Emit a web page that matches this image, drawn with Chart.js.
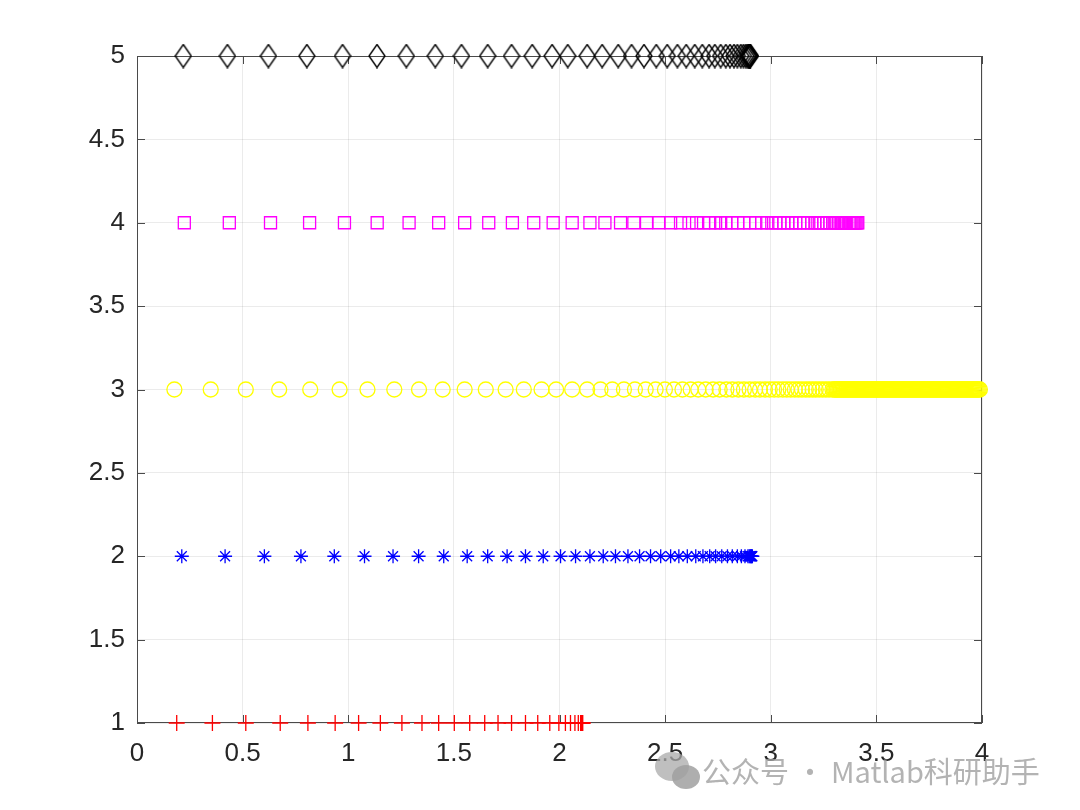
<!DOCTYPE html>
<html>
<head>
<meta charset="utf-8">
<script src="https://cdn.jsdelivr.net/npm/chart.js@4.4.0/dist/chart.umd.min.js"></script>
<style>
    html, body { margin: 0; padding: 0; background: #fff; }
    #wrap { position: relative; width: 1080px; height: 810px; }
    #mark { position: absolute; left: 702px; top: 749px; font-family: "Noto Sans CJK SC", "Noto Sans", sans-serif;
            font-size: 29px; color: rgba(160,160,160,0.8); white-space: nowrap; }
    .bub { position: absolute; border-radius: 50%; }
</style>
</head>
<body>
<div id="wrap">
    <canvas id="scatterChart"></canvas>
    <div class="bub" style="left:655px;top:752px;width:34px;height:29px;background:rgba(170,170,170,0.75)"></div>
    <div class="bub" style="left:672px;top:765px;width:28px;height:24px;background:rgba(160,160,160,0.85)"></div>
    <div id="mark">公众号 · Matlab科研助手</div>
</div>
<script>
// Axis ticks
const xTicks = [0, 0.5, 1, 1.5, 2, 2.5, 3, 3.5, 4];
const yTicks = [1, 1.5, 2, 2.5, 3, 3.5, 4, 4.5, 5];

// Series values (x positions), one row per series
const redX = [0.188, 0.357, 0.515, 0.678, 0.809, 0.938, 1.049, 1.152, 1.254, 1.349, 1.428, 1.502, 1.575,
    1.646, 1.709, 1.773, 1.839, 1.897, 1.954, 1.997, 2.028, 2.052, 2.073, 2.089, 2.100, 2.104, 2.106, 2.108, 2.110];
const blueX = [0.212, 0.417, 0.603, 0.776, 0.934, 1.077, 1.212, 1.333, 1.452, 1.563, 1.660, 1.752, 1.839,
    1.923, 2.005, 2.076, 2.144, 2.207, 2.265, 2.324, 2.379, 2.431, 2.479, 2.526, 2.565, 2.605, 2.645, 2.679,
    2.711, 2.739, 2.768, 2.795, 2.818, 2.842, 2.861, 2.878, 2.892, 2.898, 2.902, 2.905, 2.908, 2.910, 2.913];
const yellowX = [0.177, 0.349, 0.515, 0.673, 0.820, 0.959, 1.091, 1.218, 1.335, 1.447, 1.551, 1.651, 1.745,
    1.831, 1.915, 1.984, 2.060, 2.131, 2.194, 2.250, 2.305, 2.357, 2.408, 2.455, 2.499, 2.542, 2.582, 2.621,
    2.657, 2.692, 2.727, 2.758, 2.790, 2.818, 2.847, 2.873, 2.900, 2.926, 2.949, 2.973, 2.995, 3.016, 3.036,
    3.057, 3.076, 3.095, 3.114, 3.131, 3.148, 3.166, 3.182, 3.198, 3.213, 3.229, 3.245, 3.261, 3.276, 3.292,
    3.300, 3.305, 3.310, 3.315, 3.320, 3.325, 3.330, 3.335, 3.340, 3.345, 3.350, 3.355, 3.360, 3.365, 3.370, 3.375, 3.380, 3.385, 3.390, 3.395,
    3.400, 3.405, 3.410, 3.415, 3.420, 3.425, 3.430, 3.435, 3.440, 3.445, 3.450, 3.455, 3.460, 3.465, 3.470, 3.475, 3.480, 3.485, 3.490, 3.495,
    3.500, 3.505, 3.510, 3.515, 3.520, 3.525, 3.530, 3.535, 3.540, 3.545, 3.550, 3.555, 3.560, 3.565, 3.570, 3.575, 3.580, 3.585, 3.590, 3.595,
    3.600, 3.605, 3.610, 3.615, 3.620, 3.625, 3.630, 3.635, 3.640, 3.645, 3.650, 3.655, 3.660, 3.665, 3.670, 3.675, 3.680, 3.685, 3.690, 3.695,
    3.700, 3.705, 3.710, 3.715, 3.720, 3.725, 3.730, 3.735, 3.740, 3.745, 3.750, 3.755, 3.760, 3.765, 3.770, 3.775, 3.780, 3.785, 3.790, 3.795,
    3.800, 3.805, 3.810, 3.815, 3.820, 3.825, 3.830, 3.835, 3.840, 3.845, 3.850, 3.855, 3.860, 3.865, 3.870, 3.875, 3.880, 3.885, 3.890, 3.895,
    3.900, 3.905, 3.910, 3.915, 3.920, 3.925, 3.930, 3.935, 3.940, 3.945, 3.950, 3.955, 3.960, 3.965, 3.970, 3.975, 3.980, 3.985, 3.990];
const magentaX = [0.224, 0.437, 0.632, 0.817, 0.982, 1.137, 1.288, 1.428, 1.551, 1.665, 1.777, 1.878, 1.970,
    2.060, 2.144, 2.215, 2.289, 2.352, 2.412, 2.471, 2.526, 2.573, 2.613, 2.649, 2.682, 2.711, 2.739, 2.763,
    2.787, 2.815, 2.844, 2.872, 2.900, 2.929, 2.957, 2.981, 3.005, 3.024, 3.043, 3.062, 3.081, 3.100, 3.118,
    3.137, 3.156, 3.175, 3.194, 3.209, 3.223, 3.237, 3.251, 3.265, 3.280, 3.294, 3.303, 3.313, 3.322, 3.332,
    3.336, 3.341, 3.346, 3.351, 3.355, 3.360, 3.370, 3.374, 3.379, 3.384, 3.389, 3.393, 3.398, 3.403, 3.408, 3.412];
const blackX = [0.219, 0.428, 0.622, 0.804, 0.973, 1.136, 1.275, 1.412, 1.536, 1.660, 1.773, 1.871, 1.965,
    2.039, 2.131, 2.202, 2.278, 2.341, 2.400, 2.458, 2.510, 2.558, 2.600, 2.640, 2.676, 2.708, 2.735, 2.763,
    2.787, 2.807, 2.826, 2.842, 2.858, 2.871, 2.882, 2.890, 2.894, 2.897, 2.899, 2.901, 2.902, 2.903];

// MATLAB style diamond (taller than wide)
function makeDiamond() {
    const c = document.createElement('canvas');
    c.width = 18; c.height = 25;
    const g = c.getContext('2d');
    g.strokeStyle = '#000';
    g.lineWidth = 1.4;
    g.beginPath();
    g.moveTo(9, 1); g.lineTo(17, 12.5); g.lineTo(9, 24); g.lineTo(1, 12.5); g.closePath();
    g.stroke();
    return c;
}

function row(xs, yv) {
    return xs.map(v => ({ x: v, y: yv }));
}

// Box and inward ticks
const boxPlugin = {
    id: 'box',
    beforeDatasetsDraw(chart) {
        const { ctx, chartArea: a, scales: { x, y } } = chart;
        ctx.save();
        ctx.strokeStyle = '#4a4a4a';
        ctx.lineWidth = 1;
        ctx.strokeRect(a.left + 0.5, a.top + 0.5, a.right - a.left - 1, a.bottom - a.top - 1);
        ctx.beginPath();
        xTicks.forEach(t => {
            const px = Math.round(x.getPixelForValue(t)) + 0.5;
            ctx.moveTo(px, a.bottom); ctx.lineTo(px, a.bottom - 8);
            ctx.moveTo(px, a.top); ctx.lineTo(px, a.top + 8);
        });
        yTicks.forEach(t => {
            const py = Math.round(y.getPixelForValue(t)) + 0.5;
            ctx.moveTo(a.left, py); ctx.lineTo(a.left + 8, py);
            ctx.moveTo(a.right, py); ctx.lineTo(a.right - 8, py);
        });
        ctx.stroke();
        ctx.restore();
    }
};

const tickFont = { family: 'Liberation Sans, Arial, sans-serif', size: 26 };

const config = {
    type: 'scatter',
    data: {
        datasets: [
            { data: row(redX, 1), pointStyle: 'cross', radius: 8, borderColor: '#ff0000', borderWidth: 1.3, clip: false },
            { data: row(blueX, 2), pointStyle: 'star', radius: 7, borderColor: '#0000ff', borderWidth: 1.3, clip: false },
            { data: row(yellowX, 3), pointStyle: 'circle', radius: 7.5, borderColor: '#ffff00', backgroundColor: 'rgba(0,0,0,0)', borderWidth: 1.3, clip: false },
            { data: row(magentaX, 4), pointStyle: 'rect', radius: 8.5, borderColor: '#ff00ff', backgroundColor: 'rgba(0,0,0,0)', borderWidth: 1.3, clip: false },
            { data: row(blackX, 5), pointStyle: makeDiamond(), radius: 9, borderColor: '#000', clip: false }
        ]
    },
    options: {
        responsive: true,
        maintainAspectRatio: false,
        animation: false,
        layout: { autoPadding: false, padding: { left: 0, right: 98, top: 56, bottom: 0 } },
        plugins: { legend: { display: false }, tooltip: { enabled: false } },
        scales: {
            x: {
                type: 'linear', min: 0, max: 4,
                afterBuildTicks: s => { s.ticks = xTicks.map(v => ({ value: v })); },
                afterFit: s => { s.height = 87; },
                grid: { color: 'rgba(38,38,38,0.09)', drawTicks: false },
                border: { display: false },
                ticks: { color: '#262626', font: tickFont, padding: 15, maxRotation: 0, callback: v => String(v) }
            },
            y: {
                type: 'linear', min: 1, max: 5,
                afterBuildTicks: s => { s.ticks = yTicks.map(v => ({ value: v })); },
                afterFit: s => { s.width = 137; },
                grid: { color: 'rgba(38,38,38,0.09)', drawTicks: false },
                border: { display: false },
                ticks: { color: '#262626', font: tickFont, padding: 12, callback: v => String(v) }
            }
        }
    },
    plugins: [boxPlugin]
};

const scatterChart = document.getElementById('scatterChart').getContext('2d');
new Chart(scatterChart, config);
</script>
</body>
</html>
